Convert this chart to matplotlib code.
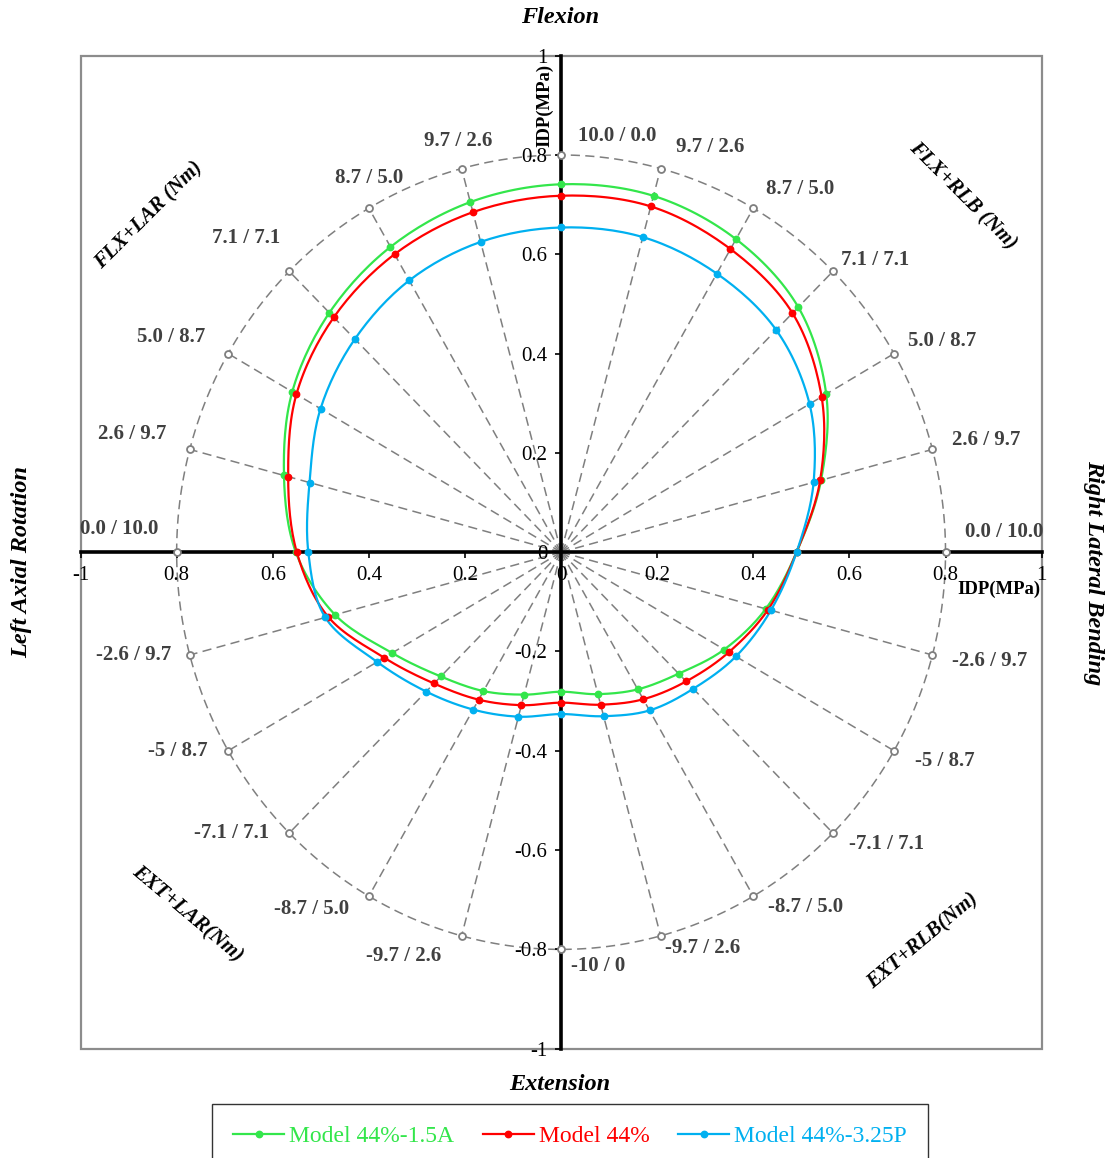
import numpy as np
import matplotlib
matplotlib.use('Agg')
import matplotlib.pyplot as plt
from matplotlib.patches import Rectangle
from matplotlib.lines import Line2D

plt.rcParams['font.family'] = ['Liberation Serif', 'DejaVu Serif']

# load directions in degrees (90 = flexion, 0 = right lateral bending)
angles = [90, 75, 60, 45, 30, 15, 0, -15, -30, -45, -60, -75, -90,
          -105, -120, -135, -150, -165, 180, 165, 150, 135, 120, 105]

# moment combination for each direction (Nm)
spoke_labels = ['10.0 / 0.0', '9.7 / 2.6', '8.7 / 5.0', '7.1 / 7.1', '5.0 / 8.7',
                '2.6 / 9.7', '0.0 / 10.0', '-2.6 / 9.7', '-5 / 8.7', '-7.1 / 7.1',
                '-8.7 / 5.0', '-9.7 / 2.6', '-10 / 0', '-9.7 / 2.6', '-8.7 / 5.0',
                '-7.1 / 7.1', '-5 / 8.7', '-2.6 / 9.7', '0.0 / 10.0', '2.6 / 9.7',
                '5.0 / 8.7', '7.1 / 7.1', '8.7 / 5.0', '9.7 / 2.6']

# IDP (MPa) per direction
idp_15a = [0.741, 0.743, 0.728, 0.698, 0.637, 0.560, 0.490, 0.441, 0.392, 0.346,
           0.319, 0.296, 0.281, 0.297, 0.323, 0.354, 0.406, 0.487, 0.552, 0.597,
           0.646, 0.682, 0.710, 0.730]
idp_44 = [0.718, 0.721, 0.705, 0.681, 0.626, 0.558, 0.490, 0.446, 0.403, 0.368,
          0.342, 0.318, 0.303, 0.319, 0.343, 0.374, 0.425, 0.502, 0.550, 0.588,
          0.636, 0.669, 0.693, 0.709]
idp_325p = [0.654, 0.657, 0.648, 0.633, 0.597, 0.544, 0.490, 0.452, 0.420, 0.389,
            0.368, 0.342, 0.326, 0.343, 0.366, 0.397, 0.442, 0.508, 0.526, 0.542,
            0.578, 0.607, 0.632, 0.647]

series_names = ['Model 44%-1.5A', 'Model 44%', 'Model 44%-3.25P']
series_colors = ['#33E64B', '#FF0000', '#00B0F0']

xtick_vals = [-1, -0.8, -0.6, -0.4, -0.2, 0, 0.2, 0.4, 0.6, 0.8, 1]
xtick_labels = ['-1', '0.8', '0.6', '0.4', '0.2', '0', '0.2', '0.4', '0.6', '0.8', '1']
ytick_labels = ['-1', '-0.8', '-0.6', '-0.4', '-0.2', '0', '0.2', '0.4', '0.6', '0.8', '1']

R_GRID = 0.8


def smooth_closed(x, y, n=16):
    # closed Catmull-Rom curve through the points (like Excel smoothed line)
    pts = np.column_stack([x, y])
    N = len(pts)
    t = np.linspace(0, 1, n, endpoint=False)[:, None]
    out = []
    for i in range(N):
        p0, p1, p2, p3 = pts[i - 1], pts[i], pts[(i + 1) % N], pts[(i + 2) % N]
        seg = 0.5 * (2 * p1 + (-p0 + p2) * t + (2 * p0 - 5 * p1 + 4 * p2 - p3) * t ** 2
                     + (-p0 + 3 * p1 - 3 * p2 + p3) * t ** 3)
        out.append(seg)
    out.append(pts[:1])
    res = np.vstack(out)
    return res[:, 0], res[:, 1]


fig = plt.figure(figsize=(11.08, 11.58), dpi=100)
ax = fig.add_axes([0.0727, 0.0944, 0.8674, 0.8575])
ax.set_xlim(-1, 1)
ax.set_ylim(-1, 1)

rad = np.deg2rad(angles)
grey = '#7F7F7F'

# spokes + dashed circle
for a in rad:
    ax.plot([0, R_GRID * np.cos(a)], [0, R_GRID * np.sin(a)], color=grey, lw=1.1,
            dashes=(6, 3.5), zorder=1)
th = np.linspace(0, 2 * np.pi, 361)
ax.plot(R_GRID * np.cos(th), R_GRID * np.sin(th), color=grey, lw=1.1, dashes=(6, 3.5), zorder=1)
ax.plot(R_GRID * np.cos(rad), R_GRID * np.sin(rad), 'o', ms=5, mfc='white', mec=grey,
        mew=1.3, ls='none', zorder=3.5)

# spoke labels (pixel offsets from spoke end)
label_offsets = [(56, 19), (50, 22), (47, 19), (42, 11), (48, 13), (54, 9), (59, 20),
                 (57, -6), (51, -10), (54, -11), (52, -11), (42, -12), (37, -17),
                 (-58, -20), (-57, -13), (-58, 0), (-50, 0), (-56, 0), (-57, 23),
                 (-58, 15), (-57, 17), (-43, 33), (0, 30), (-3, 28)]
for a, lab, off in zip(rad, spoke_labels, label_offsets):
    ax.annotate(lab, (R_GRID * np.cos(a), R_GRID * np.sin(a)), xytext=off,
                textcoords='offset pixels', ha='center', va='center',
                fontsize=15, fontweight='bold', color='#404040')

# data curves
handles = []
for vals, name, col in zip([idp_15a, idp_44, idp_325p], series_names, series_colors):
    v = np.array(vals)
    x = v * np.cos(rad)
    y = v * np.sin(rad)
    sx, sy = smooth_closed(x, y)
    ax.plot(sx, sy, color=col, lw=1.6, zorder=4)
    ax.plot(x, y, 'o', color=col, ms=4.6, ls='none', zorder=4.5)
    handles.append(Line2D([], [], color=col, lw=1.6, marker='o', ms=4.6))

# axes through origin
for side in ['top', 'right']:
    ax.spines[side].set_visible(False)
for side in ['left', 'bottom']:
    ax.spines[side].set_position('zero')
    ax.spines[side].set_color('black')
    ax.spines[side].set_linewidth(2.6)
    ax.spines[side].set_zorder(3)
ax.add_patch(Rectangle((0, 0), 1, 1, transform=ax.transAxes, fill=False,
                       edgecolor='#8C8C8C', lw=1.6, clip_on=False, zorder=0.5))

ax.set_xticks(xtick_vals)
ax.set_xticklabels(xtick_labels)
ax.set_yticks(xtick_vals)
ax.set_yticklabels(ytick_labels)
ax.tick_params(direction='out', length=4, width=1.2, labelsize=15, pad=6)

ax.text(-0.0335, 0.90, 'IDP(MPa)', rotation=90, ha='center', va='center',
        fontsize=13.5, fontweight='bold')
ax.text(0.912, -0.0745, 'IDP(MPa)', ha='center', va='center',
        fontsize=13.5, fontweight='bold')

# direction titles
title_kw = dict(ha='center', va='center', fontsize=17.5, fontweight='bold', style='italic')
fig.text(0.5054, 0.9845, 'Flexion', **title_kw)
fig.text(0.5054, 0.0639, 'Extension', **title_kw)
fig.text(0.0199, 0.5147, 'Left Axial Rotation', rotation=90, **title_kw)
fig.text(0.9865, 0.5052, 'Right Lateral Bending', rotation=270, **title_kw)

diag_kw = dict(ha='center', va='center', fontsize=15, fontweight='bold', style='italic')
fig.text(0.1345, 0.8135, 'FLX+LAR (Nm)', rotation=45, **diag_kw)
fig.text(0.8691, 0.8307, 'FLX+RLB (Nm)', rotation=-45, **diag_kw)
fig.text(0.1692, 0.2107, 'EXT+LAR(Nm)', rotation=-40, **diag_kw)
fig.text(0.8330, 0.1868, 'EXT+RLB(Nm)', rotation=40, **diag_kw)

leg = fig.legend(handles, series_names, loc='upper center',
                 bbox_to_anchor=(570 / 1108, 1 - 1104 / 1158), ncol=3, frameon=True,
                 fancybox=False, edgecolor='black', fontsize=17, handlelength=2.16,
                 handletextpad=0.2, columnspacing=1.23, borderpad=0.9,
                 borderaxespad=0, labelcolor='linecolor')
leg.get_frame().set_linewidth(1.0)

fig.savefig('out.png', dpi=100)
